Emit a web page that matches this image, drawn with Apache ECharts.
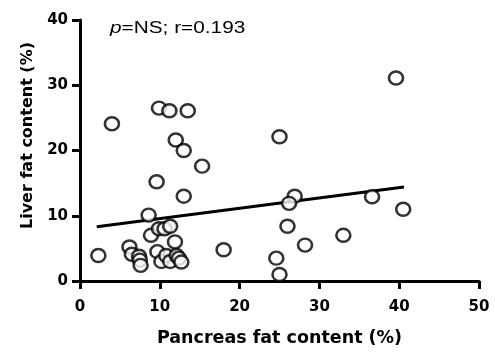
<!DOCTYPE html>
<html>
<head>
<meta charset="utf-8">
<script src="https://cdn.jsdelivr.net/npm/echarts@6/dist/echarts.min.js"></script>
<style>html,body{margin:0;padding:0;background:#fff}#c{width:495px;height:352px}</style>
</head>
<body>
<div id="c"></div>
<script>
const pancreasFat = [2.3, 6.2, 6.5, 7.4, 7.5, 7.6, 8.6, 8.9, 9.9, 10.6, 11.3, 11.9, 9.7, 10.2, 10.8, 11.3, 12.1, 12.4, 12.7,
  4.0, 9.9, 11.2, 13.5, 12.0, 13.0, 15.3, 9.6, 13.0, 18.0,
  39.6, 25.0, 26.9, 26.2, 36.6, 40.5, 26.0, 33.0, 28.2, 24.6, 25.0];
const liverFat = [3.9, 5.2, 4.1, 3.8, 3.2, 2.4, 10.1, 7.0, 8.0, 8.0, 8.4, 6.0, 4.5, 3.0, 3.9, 3.0, 3.9, 3.5, 2.9,
  24.1, 26.5, 26.1, 26.1, 21.6, 20.0, 17.6, 15.2, 13.0, 4.8,
  31.1, 22.1, 13.0, 11.9, 12.9, 11.0, 8.4, 7.0, 5.5, 3.5, 1.0];
const fitX = [2.1, 40.6];
const fitY = [8.3, 14.4];
const xTicks = [0, 10, 20, 30, 40, 50];
const yTicks = [0, 10, 20, 30, 40];
const annotation = 'r=0.193';

const chart = echarts.init(document.getElementById('c'));
const font = '"DejaVu Sans", sans-serif';
const afont = '"Liberation Sans", Arial, sans-serif';
chart.setOption({
  animation: false,
  grid: {left: 80, right: 16, top: 20, bottom: 66},
  xAxis: {
    type: 'value', min: xTicks[0], max: xTicks[xTicks.length - 1], interval: 10,
    name: 'Pancreas fat content (%)', nameLocation: 'middle', nameGap: 48,
    nameTextStyle: {fontFamily: font, fontWeight: 'bold', fontSize: 17.5, color: '#000'},
    axisLine: {lineStyle: {color: '#000', width: 3}},
    axisTick: {length: 8, lineStyle: {color: '#000', width: 3}},
    axisLabel: {fontFamily: font, fontWeight: 'bold', fontSize: 15, color: '#000', margin: 19},
    splitLine: {show: false}
  },
  yAxis: {
    type: 'value', min: yTicks[0], max: yTicks[yTicks.length - 1], interval: 10,
    name: 'Liver fat content (%)', nameLocation: 'middle', nameGap: 42,
    nameTextStyle: {fontFamily: font, fontWeight: 'bold', fontSize: 16, color: '#000', padding: [0, 0, 0, 30]},
    axisLine: {lineStyle: {color: '#000', width: 3}},
    axisTick: {length: 8, lineStyle: {color: '#000', width: 3}},
    axisLabel: {fontFamily: font, fontWeight: 'bold', fontSize: 15, color: '#000', margin: 12},
    splitLine: {show: false}
  },
  graphic: [{
    type: 'text', left: 110, top: 21, scaleX: 1.3,
    style: {
      text: '{i|p}{n|=NS; ' + annotation + '}',
      rich: {
        i: {fontFamily: afont, fontStyle: 'italic', fontSize: 16, fill: '#000'},
        n: {fontFamily: afont, fontSize: 16, fill: '#000'}
      }
    }
  }],
  series: [{
    type: 'scatter',
    data: pancreasFat.map((x, i) => [x, liverFat[i]]),
    symbol: 'circle', symbolSize: [14, 13],
    itemStyle: {color: '#fff', borderColor: '#000', borderWidth: 2.5},
    z: 3
  }, {
    type: 'line',
    data: fitX.map((x, i) => [x, fitY[i]]),
    symbol: 'none',
    lineStyle: {color: '#000', width: 3},
    z: 2
  }]
});
</script>
</body>
</html>
